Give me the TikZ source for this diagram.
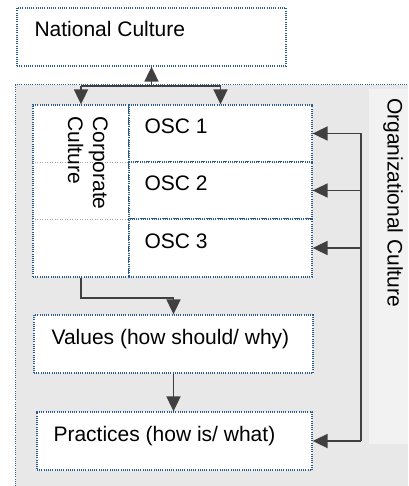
\documentclass[tikz,border=0pt]{standalone}
\usepackage{fontspec}
\setmainfont{Liberation Sans}
\usetikzlibrary{arrows.meta,fit}
\definecolor{rahmen}{HTML}{2E5C8A}
\definecolor{pfeil}{HTML}{404040}
\definecolor{grund}{HTML}{E8E8E8}
\definecolor{feld}{HTML}{F2F2F2}
\begin{document}
\begin{tikzpicture}[x=1pt, y=-1pt, >={Triangle[length=15pt,width=14pt]},
  box/.style={draw=rahmen, line width=1.3pt, dash pattern=on 1pt off 1.2pt, fill=white, inner sep=0pt},
  txt/.style={font=\fontsize{21}{25}\selectfont, inner sep=0pt},
  pf/.style={draw=pfeil, line width=1.8pt}]
\useasboundingbox (0,0) rectangle (408,486);
% Hintergrund Organisation
\node[fit={(16,85) (408,486)}, fill=grund, inner sep=0pt] (org) {};
\draw[draw=rahmen, line width=1.3pt, dash pattern=on 1pt off 1.2pt] (org.south west) -- (org.north west) -- (org.north east);
\node[fit={(369,89) (408,444)}, fill=feld, inner sep=0pt] (orgp) {};
\node[txt, rotate=-90, anchor=north west] (orgt) at (403,98) {Organizational Culture};
% Kaesten
\node[box, fit={(17,8) (286,66)}] (nat) {};
\node[box, fit={(33,105) (129,277)}] (corp) {};
\node[box, fit={(129,105) (312,162)}] (osc1) {};
\node[box, fit={(129,162) (312,219)}] (osc2) {};
\node[box, fit={(129,219) (312,277)}] (osc3) {};
\node[box, fit={(34,315) (313,373)}] (val) {};
\node[box, fit={(37,412) (312,470)}] (prac) {};
% graue Trennlinien in der linken Spalte
\draw[draw=gray!70, line width=1pt, dash pattern=on 1pt off 1.5pt] (corp.west |- osc1.south) -- (osc1.south west);
\draw[draw=gray!70, line width=1pt, dash pattern=on 1pt off 1.5pt] (corp.west |- osc2.south) -- (osc2.south west);
% Texte
\node[txt, anchor=base west] (natt) at ([xshift=18pt]nat.west) {National Culture};
\node[txt, anchor=base west] (osc1t) at ([xshift=16pt]osc1.west) {OSC 1};
\node[txt, anchor=base west] (osc2t) at ([xshift=16pt]osc2.west) {OSC 2};
\node[txt, anchor=base west] (osc3t) at ([xshift=16pt]osc3.west) {OSC 3};
\node[txt, anchor=base west] (valt) at ([xshift=18pt]val.west) {Values (how should/ why)};
\node[txt, anchor=base west] (prat) at ([xshift=17pt]prac.west) {Practices (how is/ what)};
\node[txt, rotate=-90, anchor=north west, align=left] (corpt) at (108,116) {Corporate\\Culture};
% Pfeile oben
\coordinate (split) at (nat.south |- 0,86);
\draw[pf, ->] (split) -- (nat.south);
\draw[pf] (corp.north |- split) -- (osc1.north |- split);
\draw[pf, ->] (corp.north |- split) -- (corp.north);
\draw[pf, ->] (osc1.north |- split) -- (osc1.north);
% Pfeile unten
\draw[pf, ->] (corp.south) -- ++(0,20) -| (val.north);
\draw[pf, ->] (val.south) -- (val.south |- prac.north);
% Sammelschiene rechts
\coordinate (bus) at (361,0);
\draw[pf] (osc1.east -| bus) -- (prac.east -| bus);
\draw[pf, ->] (osc1.east -| bus) -- (osc1.east);
\draw[pf, ->] (osc2.east -| bus) -- (osc2.east);
\draw[pf, ->] (osc3.east -| bus) -- (osc3.east);
\draw[pf, ->] (prac.east -| bus) -- (prac.east);
\end{tikzpicture}
\end{document}
